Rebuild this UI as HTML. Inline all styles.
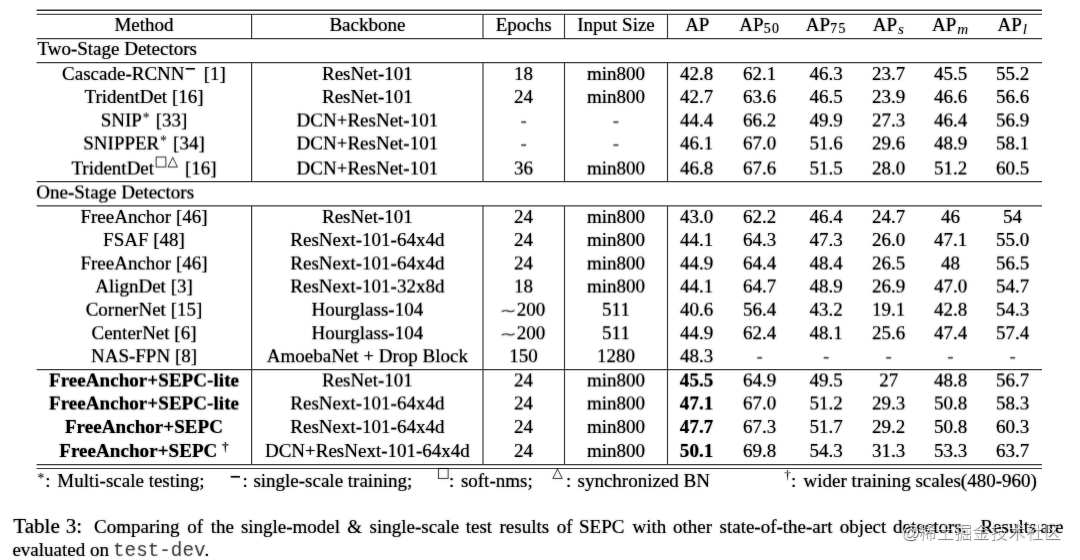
<!DOCTYPE html>
<html lang="en">
<head>
<meta charset="utf-8">
<title>Table 3</title>
<style>
html,body{margin:0;padding:0;background:#fff;}
body{width:1080px;height:560px;position:relative;overflow:hidden;font-family:"Liberation Serif","Noto Sans CJK SC",serif;font-size:19.0px;line-height:24.0px;color:#000;-webkit-text-stroke:0.16px #000;}
#pg{position:absolute;left:0;top:0;width:1080px;height:560px;filter:url(#soft);}
.c{position:absolute;width:300px;text-align:center;white-space:nowrap;}
.l{position:absolute;white-space:nowrap;}
.big{font-size:21.1px;}
.u50{filter:url(#u50);}
.u25{filter:url(#u25);}
.d25{filter:url(#d25);}
.rules{position:absolute;left:0;top:0;}
sub{font-size:0.73em;line-height:0;vertical-align:-0.2em;font-family:"Liberation Serif",serif;letter-spacing:1.2px;margin-left:0.3px;}
sub.i{font-style:italic;-webkit-text-stroke:0;font-size:0.8em;letter-spacing:0.2px;vertical-align:-0.2em;margin-left:0.8px;margin-right:0.6px;}
sup{font-size:0.7em;line-height:0;vertical-align:0.42em;display:inline-block;}
sup.ast{font-size:0.72em;vertical-align:0.27em;margin:0 1.4px 0 0.8px;-webkit-text-stroke:0;}
sup.bar{font-size:0.8em;vertical-align:0.37em;transform:scaleX(1.22);transform-origin:0 50%;width:13.6px;margin-left:0.9px;text-align:left;-webkit-text-stroke:0.55px #000;}
sup.sq{font-family:"DejaVu Sans",sans-serif;font-size:0.72em;vertical-align:0.62em;letter-spacing:-0.1px;margin:0 2.4px 0 0.5px;-webkit-text-stroke:0;}
sup.dg{font-size:0.7em;vertical-align:0.45em;}
sup.f{margin:0;width:auto;}
sup.sq.f{vertical-align:0.68em;font-size:0.72em;}
sup.dg.f{vertical-align:0.58em;-webkit-text-stroke:0;}
sup.bar.f{transform:scaleX(1.22);-webkit-text-stroke:0.55px #000;vertical-align:0.33em;}
sup.ast.f{font-size:0.72em;vertical-align:0.28em;}
.tl{font-family:"DejaVu Sans",sans-serif;font-size:0.8em;-webkit-text-stroke:0;color:#222;display:inline-block;transform:scaleX(1.36);transform-origin:100% 50%;margin-left:1.6px;margin-right:0.4px;position:relative;top:0.8px;}
.tt{font-family:"Liberation Mono",monospace;font-size:19.3px;-webkit-text-stroke:0;color:#484848;}
b{font-weight:bold;letter-spacing:0.06px;}
.hy{-webkit-text-stroke:0;color:#2a2a2a;}
.wm{position:absolute;font-family:"Liberation Sans","Noto Sans CJK SC",sans-serif;font-size:17.85px;line-height:26px;color:rgba(255,255,255,0.8);text-shadow:0.5px 0.9px 0.9px rgba(0,0,0,0.7);white-space:nowrap;-webkit-text-stroke:0;}
.wm .at{font-size:18px;display:inline-block;width:17.4px;letter-spacing:-2px;position:relative;top:0.5px;}
.wm .cj{font-family:"Noto Sans CJK SC",sans-serif;font-weight:300;font-size:16.9px;letter-spacing:1.0px;position:relative;top:0.3px;}
</style>
</head>
<body>
<svg width="0" height="0" style="position:absolute"><defs><filter id="soft" x="0" y="0" width="100%" height="100%" color-interpolation-filters="sRGB"><feGaussianBlur in="SourceGraphic" stdDeviation="0.8" result="b"/><feComposite in="SourceGraphic" in2="b" operator="arithmetic" k1="0" k2="0.68" k3="0.32" k4="0" result="m"/><feComponentTransfer in="m"><feFuncA type="linear" slope="1.15" intercept="0"/></feComponentTransfer></filter><filter id="u50" x="-2%" y="-25%" width="104%" height="150%" color-interpolation-filters="sRGB"><feConvolveMatrix order="1 2" kernelMatrix="0.5 0.5" targetY="0" preserveAlpha="false" edgeMode="none"/></filter><filter id="u25" x="-2%" y="-25%" width="104%" height="150%" color-interpolation-filters="sRGB"><feConvolveMatrix order="1 2" kernelMatrix="0.25 0.75" targetY="0" preserveAlpha="false" edgeMode="none"/></filter><filter id="d25" x="-2%" y="-25%" width="104%" height="150%" color-interpolation-filters="sRGB"><feConvolveMatrix order="1 2" kernelMatrix="0.75 0.25" targetY="1" preserveAlpha="false" edgeMode="none"/></filter></defs></svg>
<svg class="rules" width="1080" height="560" viewBox="0 0 1080 560"><g stroke="#3d3d3d" stroke-width="1.20" fill="none"><line x1="36.60" y1="10.30" x2="1042.00" y2="10.30" stroke="#333" stroke-width="1.4"/><line x1="36.60" y1="14.35" x2="1042.00" y2="14.35" stroke="#555" stroke-width="1.05"/><line x1="36.60" y1="38.70" x2="1042.00" y2="38.70"/><line x1="36.60" y1="62.60" x2="1042.00" y2="62.60"/><line x1="36.60" y1="181.70" x2="1042.00" y2="181.70"/><line x1="36.60" y1="205.80" x2="1042.00" y2="205.80"/><line x1="36.60" y1="369.60" x2="1042.00" y2="369.60"/><line x1="36.60" y1="464.60" x2="1042.00" y2="464.60"/><line x1="36.60" y1="468.50" x2="1042.00" y2="468.50"/><line x1="251.60" y1="14.35" x2="251.60" y2="38.70"/><line x1="251.60" y1="62.60" x2="251.60" y2="181.70"/><line x1="251.60" y1="205.80" x2="251.60" y2="464.60"/><line x1="483.00" y1="14.35" x2="483.00" y2="38.70"/><line x1="483.00" y1="62.60" x2="483.00" y2="181.70"/><line x1="483.00" y1="205.80" x2="483.00" y2="464.60"/><line x1="564.50" y1="14.35" x2="564.50" y2="38.70"/><line x1="564.50" y1="62.60" x2="564.50" y2="181.70"/><line x1="564.50" y1="205.80" x2="564.50" y2="464.60"/><line x1="667.50" y1="14.35" x2="667.50" y2="38.70"/><line x1="667.50" y1="62.60" x2="667.50" y2="181.70"/><line x1="667.50" y1="205.80" x2="667.50" y2="464.60"/></g></svg>
<div id="pg">
<div class="c" id="hm" style="left:-6.00px;top:12.59px"><span>Method</span></div>
<div class="c" id="hb" style="left:217.40px;top:12.59px"><span>Backbone</span></div>
<div class="c" id="he" style="left:373.60px;top:12.59px"><span>Epochs</span></div>
<div class="c" id="hi" style="left:466.00px;top:12.59px"><span>Input Size</span></div>
<div class="c" id="hap" style="left:547.30px;top:12.59px"><span>AP</span></div>
<div class="c" id="ha50" style="left:609.70px;top:12.59px"><span>AP<sub>50</sub></span></div>
<div class="c" id="ha75" style="left:676.10px;top:12.59px"><span>AP<sub>75</sub></span></div>
<div class="c" id="haps" style="left:738.70px;top:12.59px"><span>AP<sub class="i">s</sub></span></div>
<div class="c" id="hapm" style="left:800.50px;top:12.59px"><span>AP<sub class="i">m</sub></span></div>
<div class="c" id="hapl" style="left:862.60px;top:12.59px"><span>AP<sub class="i">l</sub></span></div>
<div class="l" id="two" style="left:37.40px;top:36.59px;">Two-Stage Detectors</div>
<div class="c" id="a0m" style="left:-6.00px;top:61.59px"><span>Cascade-RCNN<sup class="bar">&#x2212;</sup> [1]</span></div>
<div class="c" id="a0b" style="left:217.40px;top:61.59px"><span>ResNet-101</span></div>
<div class="c" id="a0e" style="left:373.60px;top:61.59px"><span>18</span></div>
<div class="c" id="a0i" style="left:466.00px;top:61.59px"><span>min800</span></div>
<div class="c" id="a0ap" style="left:546.60px;top:61.59px"><span>42.8</span></div>
<div class="c" id="a0a50" style="left:609.70px;top:61.59px"><span>62.1</span></div>
<div class="c" id="a0a75" style="left:676.10px;top:61.59px"><span>46.3</span></div>
<div class="c" id="a0aps" style="left:738.70px;top:61.59px"><span>23.7</span></div>
<div class="c" id="a0apm" style="left:800.50px;top:61.59px"><span>45.5</span></div>
<div class="c" id="a0apl" style="left:862.60px;top:61.59px"><span>55.2</span></div>
<div class="c" id="a1m" style="left:-6.00px;top:84.59px"><span>TridentDet [16]</span></div>
<div class="c" id="a1b" style="left:217.40px;top:84.59px"><span>ResNet-101</span></div>
<div class="c" id="a1e" style="left:373.60px;top:84.59px"><span>24</span></div>
<div class="c" id="a1i" style="left:466.00px;top:84.59px"><span>min800</span></div>
<div class="c" id="a1ap" style="left:546.60px;top:84.59px"><span>42.7</span></div>
<div class="c" id="a1a50" style="left:609.70px;top:84.59px"><span>63.6</span></div>
<div class="c" id="a1a75" style="left:676.10px;top:84.59px"><span>46.5</span></div>
<div class="c" id="a1aps" style="left:738.70px;top:84.59px"><span>23.9</span></div>
<div class="c" id="a1apm" style="left:800.50px;top:84.59px"><span>46.6</span></div>
<div class="c" id="a1apl" style="left:862.60px;top:84.59px"><span>56.6</span></div>
<div class="c u50" id="a2m" style="left:-6.00px;top:108.59px"><span>SNIP<sup class="ast">*</sup> [33]</span></div>
<div class="c u50" id="a2b" style="left:217.40px;top:108.59px"><span>DCN+ResNet-101</span></div>
<div class="c u50" id="a2e" style="left:373.60px;top:108.59px"><span class="hy">-</span></div>
<div class="c u50" id="a2i" style="left:466.00px;top:108.59px"><span class="hy">-</span></div>
<div class="c u50" id="a2ap" style="left:546.60px;top:108.59px"><span>44.4</span></div>
<div class="c u50" id="a2a50" style="left:609.70px;top:108.59px"><span>66.2</span></div>
<div class="c u50" id="a2a75" style="left:676.10px;top:108.59px"><span>49.9</span></div>
<div class="c u50" id="a2aps" style="left:738.70px;top:108.59px"><span>27.3</span></div>
<div class="c u50" id="a2apm" style="left:800.50px;top:108.59px"><span>46.4</span></div>
<div class="c u50" id="a2apl" style="left:862.60px;top:108.59px"><span>56.9</span></div>
<div class="c u50" id="a3m" style="left:-6.00px;top:131.59px"><span>SNIPPER<sup class="ast">*</sup> [34]</span></div>
<div class="c u50" id="a3b" style="left:217.40px;top:131.59px"><span>DCN+ResNet-101</span></div>
<div class="c u50" id="a3e" style="left:373.60px;top:131.59px"><span class="hy">-</span></div>
<div class="c u50" id="a3i" style="left:466.00px;top:131.59px"><span class="hy">-</span></div>
<div class="c u50" id="a3ap" style="left:546.60px;top:131.59px"><span>46.1</span></div>
<div class="c u50" id="a3a50" style="left:609.70px;top:131.59px"><span>67.0</span></div>
<div class="c u50" id="a3a75" style="left:676.10px;top:131.59px"><span>51.6</span></div>
<div class="c u50" id="a3aps" style="left:738.70px;top:131.59px"><span>29.6</span></div>
<div class="c u50" id="a3apm" style="left:800.50px;top:131.59px"><span>48.9</span></div>
<div class="c u50" id="a3apl" style="left:862.60px;top:131.59px"><span>58.1</span></div>
<div class="c u50" id="a4m" style="left:-6.00px;top:156.59px"><span>TridentDet<sup class="sq">&#x25A1;&#x25B3;</sup> [16]</span></div>
<div class="c u50" id="a4b" style="left:217.40px;top:156.59px"><span>DCN+ResNet-101</span></div>
<div class="c u50" id="a4e" style="left:373.60px;top:156.59px"><span>36</span></div>
<div class="c u50" id="a4i" style="left:466.00px;top:156.59px"><span>min800</span></div>
<div class="c u50" id="a4ap" style="left:546.60px;top:156.59px"><span>46.8</span></div>
<div class="c u50" id="a4a50" style="left:609.70px;top:156.59px"><span>67.6</span></div>
<div class="c u50" id="a4a75" style="left:676.10px;top:156.59px"><span>51.5</span></div>
<div class="c u50" id="a4aps" style="left:738.70px;top:156.59px"><span>28.0</span></div>
<div class="c u50" id="a4apm" style="left:800.50px;top:156.59px"><span>51.2</span></div>
<div class="c u50" id="a4apl" style="left:862.60px;top:156.59px"><span>60.5</span></div>
<div class="l u50" id="one" style="left:36.32px;top:180.59px;">One-Stage Detectors</div>
<div class="c" id="b0m" style="left:-6.00px;top:204.59px"><span>FreeAnchor [46]</span></div>
<div class="c" id="b0b" style="left:217.40px;top:204.59px"><span>ResNet-101</span></div>
<div class="c" id="b0e" style="left:373.60px;top:204.59px"><span>24</span></div>
<div class="c" id="b0i" style="left:466.00px;top:204.59px"><span>min800</span></div>
<div class="c" id="b0ap" style="left:546.60px;top:204.59px"><span>43.0</span></div>
<div class="c" id="b0a50" style="left:609.70px;top:204.59px"><span>62.2</span></div>
<div class="c" id="b0a75" style="left:676.10px;top:204.59px"><span>46.4</span></div>
<div class="c" id="b0aps" style="left:738.70px;top:204.59px"><span>24.7</span></div>
<div class="c" id="b0apm" style="left:800.50px;top:204.59px"><span>46</span></div>
<div class="c" id="b0apl" style="left:862.60px;top:204.59px"><span>54</span></div>
<div class="c" id="b1m" style="left:-6.00px;top:227.59px"><span>FSAF [48]</span></div>
<div class="c" id="b1b" style="left:217.40px;top:227.59px"><span>ResNext-101-64x4d</span></div>
<div class="c" id="b1e" style="left:373.60px;top:227.59px"><span>24</span></div>
<div class="c" id="b1i" style="left:466.00px;top:227.59px"><span>min800</span></div>
<div class="c" id="b1ap" style="left:546.60px;top:227.59px"><span>44.1</span></div>
<div class="c" id="b1a50" style="left:609.70px;top:227.59px"><span>64.3</span></div>
<div class="c" id="b1a75" style="left:676.10px;top:227.59px"><span>47.3</span></div>
<div class="c" id="b1aps" style="left:738.70px;top:227.59px"><span>26.0</span></div>
<div class="c" id="b1apm" style="left:800.50px;top:227.59px"><span>47.1</span></div>
<div class="c" id="b1apl" style="left:862.60px;top:227.59px"><span>55.0</span></div>
<div class="c u50" id="b2m" style="left:-6.00px;top:251.59px"><span>FreeAnchor [46]</span></div>
<div class="c u50" id="b2b" style="left:217.40px;top:251.59px"><span>ResNext-101-64x4d</span></div>
<div class="c u50" id="b2e" style="left:373.60px;top:251.59px"><span>24</span></div>
<div class="c u50" id="b2i" style="left:466.00px;top:251.59px"><span>min800</span></div>
<div class="c u50" id="b2ap" style="left:546.60px;top:251.59px"><span>44.9</span></div>
<div class="c u50" id="b2a50" style="left:609.70px;top:251.59px"><span>64.4</span></div>
<div class="c u50" id="b2a75" style="left:676.10px;top:251.59px"><span>48.4</span></div>
<div class="c u50" id="b2aps" style="left:738.70px;top:251.59px"><span>26.5</span></div>
<div class="c u50" id="b2apm" style="left:800.50px;top:251.59px"><span>48</span></div>
<div class="c u50" id="b2apl" style="left:862.60px;top:251.59px"><span>56.5</span></div>
<div class="c u50" id="b3m" style="left:-6.00px;top:274.59px"><span>AlignDet [3]</span></div>
<div class="c u50" id="b3b" style="left:217.40px;top:274.59px"><span>ResNext-101-32x8d</span></div>
<div class="c u50" id="b3e" style="left:373.60px;top:274.59px"><span>18</span></div>
<div class="c u50" id="b3i" style="left:466.00px;top:274.59px"><span>min800</span></div>
<div class="c u50" id="b3ap" style="left:546.60px;top:274.59px"><span>44.1</span></div>
<div class="c u50" id="b3a50" style="left:609.70px;top:274.59px"><span>64.7</span></div>
<div class="c u50" id="b3a75" style="left:676.10px;top:274.59px"><span>48.9</span></div>
<div class="c u50" id="b3aps" style="left:738.70px;top:274.59px"><span>26.9</span></div>
<div class="c u50" id="b3apm" style="left:800.50px;top:274.59px"><span>47.0</span></div>
<div class="c u50" id="b3apl" style="left:862.60px;top:274.59px"><span>54.7</span></div>
<div class="c u25" id="b4m" style="left:-6.00px;top:297.59px"><span>CornerNet [15]</span></div>
<div class="c u25" id="b4b" style="left:217.40px;top:297.59px"><span>Hourglass-104</span></div>
<div class="c u25" id="b4e" style="left:373.60px;top:297.59px"><span><span class="tl">&#x223C;</span>200</span></div>
<div class="c u25" id="b4i" style="left:466.00px;top:297.59px"><span>511</span></div>
<div class="c u25" id="b4ap" style="left:546.60px;top:297.59px"><span>40.6</span></div>
<div class="c u25" id="b4a50" style="left:609.70px;top:297.59px"><span>56.4</span></div>
<div class="c u25" id="b4a75" style="left:676.10px;top:297.59px"><span>43.2</span></div>
<div class="c u25" id="b4aps" style="left:738.70px;top:297.59px"><span>19.1</span></div>
<div class="c u25" id="b4apm" style="left:800.50px;top:297.59px"><span>42.8</span></div>
<div class="c u25" id="b4apl" style="left:862.60px;top:297.59px"><span>54.3</span></div>
<div class="c d25" id="b5m" style="left:-6.00px;top:320.59px"><span>CenterNet [6]</span></div>
<div class="c d25" id="b5b" style="left:217.40px;top:320.59px"><span>Hourglass-104</span></div>
<div class="c d25" id="b5e" style="left:373.60px;top:320.59px"><span><span class="tl">&#x223C;</span>200</span></div>
<div class="c d25" id="b5i" style="left:466.00px;top:320.59px"><span>511</span></div>
<div class="c d25" id="b5ap" style="left:546.60px;top:320.59px"><span>44.9</span></div>
<div class="c d25" id="b5a50" style="left:609.70px;top:320.59px"><span>62.4</span></div>
<div class="c d25" id="b5a75" style="left:676.10px;top:320.59px"><span>48.1</span></div>
<div class="c d25" id="b5aps" style="left:738.70px;top:320.59px"><span>25.6</span></div>
<div class="c d25" id="b5apm" style="left:800.50px;top:320.59px"><span>47.4</span></div>
<div class="c d25" id="b5apl" style="left:862.60px;top:320.59px"><span>57.4</span></div>
<div class="c d25" id="b6m" style="left:-6.00px;top:343.59px"><span>NAS-FPN [8]</span></div>
<div class="c d25" id="b6b" style="left:217.40px;top:343.59px"><span>AmoebaNet + Drop Block</span></div>
<div class="c d25" id="b6e" style="left:373.60px;top:343.59px"><span>150</span></div>
<div class="c d25" id="b6i" style="left:466.00px;top:343.59px"><span>1280</span></div>
<div class="c d25" id="b6ap" style="left:546.60px;top:343.59px"><span>48.3</span></div>
<div class="c d25" id="b6a50" style="left:609.70px;top:343.59px"><span class="hy">-</span></div>
<div class="c d25" id="b6a75" style="left:676.10px;top:343.59px"><span class="hy">-</span></div>
<div class="c d25" id="b6aps" style="left:738.70px;top:343.59px"><span class="hy">-</span></div>
<div class="c d25" id="b6apm" style="left:800.50px;top:343.59px"><span class="hy">-</span></div>
<div class="c d25" id="b6apl" style="left:862.60px;top:343.59px"><span class="hy">-</span></div>
<div class="c u50" id="c0m" style="left:-6.00px;top:368.59px"><span><b>FreeAnchor+SEPC-lite</b></span></div>
<div class="c u50" id="c0b" style="left:217.40px;top:368.59px"><span>ResNet-101</span></div>
<div class="c u50" id="c0e" style="left:373.60px;top:368.59px"><span>24</span></div>
<div class="c u50" id="c0i" style="left:466.00px;top:368.59px"><span>min800</span></div>
<div class="c u50" id="c0ap" style="left:546.60px;top:368.59px"><span><b>45.5</b></span></div>
<div class="c u50" id="c0a50" style="left:609.70px;top:368.59px"><span>64.9</span></div>
<div class="c u50" id="c0a75" style="left:676.10px;top:368.59px"><span>49.5</span></div>
<div class="c u50" id="c0aps" style="left:738.70px;top:368.59px"><span>27</span></div>
<div class="c u50" id="c0apm" style="left:800.50px;top:368.59px"><span>48.8</span></div>
<div class="c u50" id="c0apl" style="left:862.60px;top:368.59px"><span>56.7</span></div>
<div class="c u50" id="c1m" style="left:-6.00px;top:391.59px"><span><b>FreeAnchor+SEPC-lite</b></span></div>
<div class="c u50" id="c1b" style="left:217.40px;top:391.59px"><span>ResNext-101-64x4d</span></div>
<div class="c u50" id="c1e" style="left:373.60px;top:391.59px"><span>24</span></div>
<div class="c u50" id="c1i" style="left:466.00px;top:391.59px"><span>min800</span></div>
<div class="c u50" id="c1ap" style="left:546.60px;top:391.59px"><span><b>47.1</b></span></div>
<div class="c u50" id="c1a50" style="left:609.70px;top:391.59px"><span>67.0</span></div>
<div class="c u50" id="c1a75" style="left:676.10px;top:391.59px"><span>51.2</span></div>
<div class="c u50" id="c1aps" style="left:738.70px;top:391.59px"><span>29.3</span></div>
<div class="c u50" id="c1apm" style="left:800.50px;top:391.59px"><span>50.8</span></div>
<div class="c u50" id="c1apl" style="left:862.60px;top:391.59px"><span>58.3</span></div>
<div class="c" id="c2m" style="left:-6.00px;top:414.59px"><span><b>FreeAnchor+SEPC</b></span></div>
<div class="c" id="c2b" style="left:217.40px;top:414.59px"><span>ResNext-101-64x4d</span></div>
<div class="c" id="c2e" style="left:373.60px;top:414.59px"><span>24</span></div>
<div class="c" id="c2i" style="left:466.00px;top:414.59px"><span>min800</span></div>
<div class="c" id="c2ap" style="left:546.60px;top:414.59px"><span><b>47.7</b></span></div>
<div class="c" id="c2a50" style="left:609.70px;top:414.59px"><span>67.3</span></div>
<div class="c" id="c2a75" style="left:676.10px;top:414.59px"><span>51.7</span></div>
<div class="c" id="c2aps" style="left:738.70px;top:414.59px"><span>29.2</span></div>
<div class="c" id="c2apm" style="left:800.50px;top:414.59px"><span>50.8</span></div>
<div class="c" id="c2apl" style="left:862.60px;top:414.59px"><span>60.3</span></div>
<div class="c" id="c3m" style="left:-6.00px;top:438.59px"><span><b>FreeAnchor+SEPC</b> <sup class="dg">&#x2020;</sup></span></div>
<div class="c" id="c3b" style="left:217.40px;top:438.59px"><span>DCN+ResNext-101-64x4d</span></div>
<div class="c" id="c3e" style="left:373.60px;top:438.59px"><span>24</span></div>
<div class="c" id="c3i" style="left:466.00px;top:438.59px"><span>min800</span></div>
<div class="c" id="c3ap" style="left:546.60px;top:438.59px"><span><b>50.1</b></span></div>
<div class="c" id="c3a50" style="left:609.70px;top:438.59px"><span>69.8</span></div>
<div class="c" id="c3a75" style="left:676.10px;top:438.59px"><span>54.3</span></div>
<div class="c" id="c3aps" style="left:738.70px;top:438.59px"><span>31.3</span></div>
<div class="c" id="c3apm" style="left:800.50px;top:438.59px"><span>53.3</span></div>
<div class="c" id="c3apl" style="left:862.60px;top:438.59px"><span>63.7</span></div>
<div class="l" id="f1s" style="left:37.60px;top:468.59px;"><sup class="ast f">*</sup></div>
<div class="l" id="f1c" style="left:45.18px;top:468.59px;">:</div>
<div class="l" id="f1t" style="left:57.37px;top:468.59px;">Multi-scale testing;</div>
<div class="l" id="f2s" style="left:229.55px;top:468.59px;"><sup class="bar f">&#x2212;</sup></div>
<div class="l" id="f2c" style="left:242.61px;top:468.59px;">:</div>
<div class="l" id="f2t" style="left:253.39px;top:468.59px;">single-scale training;</div>
<div class="l" id="f3s" style="left:436.69px;top:468.59px;"><sup class="sq f">&#x25A1;</sup></div>
<div class="l" id="f3c" style="left:448.89px;top:468.59px;">:</div>
<div class="l" id="f3t" style="left:460.89px;top:468.59px;">soft-nms;</div>
<div class="l" id="f4s" style="left:552.23px;top:468.59px;"><sup class="sq f">&#x25B3;</sup></div>
<div class="l" id="f4c" style="left:565.89px;top:468.59px;">:</div>
<div class="l" id="f4t" style="left:577.54px;top:468.59px;">synchronized BN</div>
<div class="l" id="f5s" style="left:784.30px;top:468.59px;"><sup class="dg f">&#x2020;</sup></div>
<div class="l" id="f5c" style="left:791.08px;top:468.59px;">:</div>
<div class="l" id="f5t" style="left:803.62px;top:468.59px;">wider training scales(480-960)</div>
<div class="l big" id="w0" style="left:13.22px;top:513.89px;">Table</div>
<div class="l big" id="w1" style="left:65.63px;top:513.89px;">3:</div>
<div class="l" id="w2" style="left:94.12px;top:514.59px;">Comparing</div>
<div class="l" id="w3" style="left:187.29px;top:514.59px;">of</div>
<div class="l" id="w4" style="left:210.75px;top:514.59px;">the</div>
<div class="l" id="w5" style="left:240.89px;top:514.59px;">single-model</div>
<div class="l" id="w6" style="left:347.31px;top:514.59px;">&amp;</div>
<div class="l" id="w7" style="left:369.54px;top:514.59px;">single-scale</div>
<div class="l" id="w8" style="left:465.75px;top:514.59px;">test</div>
<div class="l" id="w9" style="left:499.49px;top:514.59px;">results</div>
<div class="l" id="w10" style="left:556.87px;top:514.59px;">of</div>
<div class="l" id="w11" style="left:579.02px;top:514.59px;">SEPC</div>
<div class="l" id="w12" style="left:632.51px;top:514.59px;">with</div>
<div class="l" id="w13" style="left:673.08px;top:514.59px;">other</div>
<div class="l" id="w14" style="left:719.54px;top:514.59px;">state-of-the-art</div>
<div class="l" id="w15" style="left:839.87px;top:514.59px;">object</div>
<div class="l" id="w16" style="left:893.08px;top:514.59px;">detectors.</div>
<div class="l" id="w17" style="left:980.39px;top:514.59px;">Results</div>
<div class="l" id="w18" style="left:1040.34px;top:514.59px;">are</div>
<div class="l" id="e1" style="left:12.39px;top:537.59px;">evaluated on</div>
<div class="l tt" id="e2" style="left:113.02px;top:538.93px;">test-dev</div>
<div class="l" id="e3" style="left:204.53px;top:537.59px;">.</div>
</div>
<div class="wm" id="wm" style="left:901.5px;top:517.5px"><span class="at">@</span><span class="cj">稀土掘金技术社区</span></div>
</body>
</html>
